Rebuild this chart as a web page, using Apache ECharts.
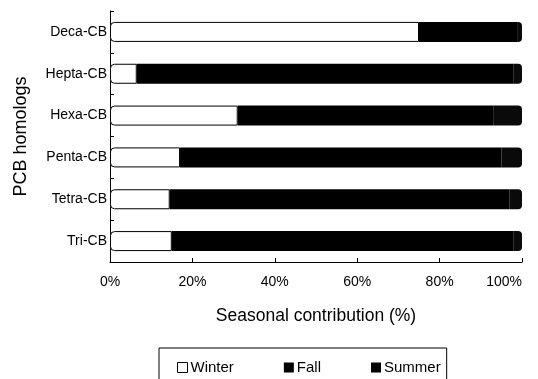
<!DOCTYPE html>
<html><head><meta charset="utf-8">
<script src="https://cdn.jsdelivr.net/npm/echarts@6/dist/echarts.min.js"></script>
<style>html,body{margin:0;padding:0;background:#fff}#c{width:538px;height:379px}</style>
</head><body><div id="c"></div>
<script>
const categories = ["Tri-CB","Tetra-CB","Penta-CB","Hexa-CB","Hepta-CB","Deca-CB"];
const winter = [15, 14.5, 17, 31, 6.5, 75];
const fall   = [83, 82.5, 78, 62, 91.5, 24];
const summer = [2, 3, 5, 7, 2, 1];
const tickLabels = ["0%","20%","40%","60%","80%","100%"];

const chart = echarts.init(document.getElementById('c'));
const font = 'Liberation Sans, Arial, sans-serif';
chart.setOption({
  animation:false,
  backgroundColor:'#fff',
  grid:{left:110, right:16, top:11, height:251, outerBoundsMode:'none', containLabel:false},
  legend:{
    data:[
      {name:'Winter', itemStyle:{color:'#fff', borderColor:'#000', borderWidth:1}},
      {name:'Fall', itemStyle:{color:'#000'}},
      {name:'Summer', itemStyle:{color:'#000'}}
    ],
    left:159, top:348,
    padding:[12,6,12,18],
    borderColor:'#000', borderWidth:1,
    itemWidth:10, itemHeight:10, itemGap:50,
    icon:'rect',
    textStyle:{fontFamily:font, fontSize:15, color:'#000', padding:[0,0,0,-2]}
  },
  xAxis:{
    type:'value', min:0, max:100, interval:20,
    name:'Seasonal contribution (%)', nameLocation:'middle', nameGap:45,
    nameTextStyle:{fontFamily:font, fontSize:17.5, color:'#000'},
    axisLine:{show:true, lineStyle:{color:'#000', width:1}},
    axisTick:{show:true, inside:true, length:4, lineStyle:{color:'#000'}},
    splitLine:{show:false},
    axisLabel:{fontFamily:font, fontSize:14, color:'#000', margin:13, alignMaxLabel:'right',
      formatter:function(v){return tickLabels[Math.round(v/20)];}}
  },
  yAxis:{
    type:'category', data:categories,
    name:'PCB homologs', nameLocation:'middle', nameGap:80, nameRotate:90,
    nameTextStyle:{fontFamily:font, fontSize:18, color:'#000'},
    axisLine:{show:true, lineStyle:{color:'#000', width:1}},
    axisTick:{show:true, inside:true, length:4, lineStyle:{color:'#000'}},
    axisLabel:{fontFamily:font, fontSize:14, color:'#000', margin:3}
  },
  series:[
    {name:'Winter', type:'bar', stack:'s', data:winter, barWidth:20,
     itemStyle:{color:'#fff', borderColor:'#000', borderWidth:1, borderRadius:[4,0,0,4]}},
    {name:'Fall', type:'bar', stack:'s', data:fall,
     itemStyle:{color:'#000'}},
    {name:'Summer', type:'bar', stack:'s', data:summer,
     itemStyle:{color:'#0a0a0a', borderRadius:[0,4,4,0]}}
  ]
});
</script></body></html>
